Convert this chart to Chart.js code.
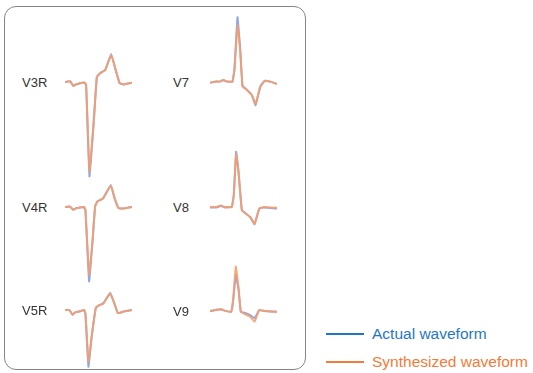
<!DOCTYPE html>
<html>
<head>
<meta charset="utf-8">
<script src="https://cdn.jsdelivr.net/npm/chart.js@4/dist/chart.umd.min.js"></script>
<style>
  html, body { margin: 0; padding: 0; background: #fff; overflow: hidden; }
  body { width: 533px; height: 373px; position: relative; font-family: "Liberation Sans", Arial, Helvetica, sans-serif; }
  #box { position: absolute; left: 4px; top: 6px; width: 300px; height: 362px; border: 1.3px solid #858585; border-radius: 12px; }
  .lead { position: absolute; font-size: 13px; color: #333; line-height: 16px; margin-top: -8px; }
  canvas.ecg { position: absolute; }
  .leg-line { position: absolute; height: 1.6px; width: 38px; }
  .leg-text { position: absolute; font-size: 15.5px; line-height: 18px; margin-top: -9px; white-space: nowrap; }
</style>
</head>
<body>
<script>
// ---- Data (time in ms, amplitude in mV) ----
const leadNames = ["V3R", "V4R", "V5R", "V7", "V8", "V9"];
const seriesNames = ["Actual waveform", "Synthesized waveform"];

const v3rTime   = [0, 30, 50, 66, 90, 114, 126, 146, 170, 190, 210, 240, 276, 300, 326, 350, 400];
const v3rActual = [0, 0.02, -0.10, -0.06, -0.03, -0.01, -0.07, -2.36, -1.10, 0.12, 0.22, 0.30, 0.70, 0.34, -0.03, -0.06, -0.02];
const v3rSynth  = [0, 0.02, -0.09, -0.06, -0.03, -0.01, -0.06, -2.24, -1.07, 0.13, 0.22, 0.30, 0.68, 0.34, -0.03, -0.06, -0.02];

const v4rTime   = [0, 30, 50, 66, 90, 114, 122, 144, 164, 180, 194, 226, 274, 296, 320, 350, 400];
const v4rActual = [0, 0.01, -0.07, -0.03, -0.01, 0, -0.08, -1.86, -0.88, 0.02, 0.14, 0.21, 0.55, 0.22, -0.03, -0.04, 0.01];
const v4rSynth  = [0, 0.01, -0.07, -0.03, -0.01, 0, -0.07, -1.69, -0.86, 0.02, 0.14, 0.21, 0.54, 0.22, -0.03, -0.04, 0];

const v5rTime   = [0, 26, 46, 60, 90, 114, 122, 140, 160, 184, 200, 230, 270, 294, 316, 350, 400];
const v5rActual = [0, 0, -0.12, -0.06, -0.03, 0, -0.09, -1.42, -0.65, 0.05, 0.11, 0.17, 0.43, 0.17, -0.08, -0.04, 0];
const v5rSynth  = [0, 0, -0.12, -0.06, -0.03, 0, -0.08, -1.29, -0.63, 0.06, 0.11, 0.17, 0.42, 0.17, -0.08, -0.04, 0];

const v7Time    = [0, 40, 60, 80, 100, 134, 146, 164, 180, 194, 220, 250, 272, 300, 326, 360, 400];
const v7Actual  = [-0.02, 0.01, 0.01, 0.05, 0.01, 0.01, 0.32, 1.62, 0.85, -0.10, -0.19, -0.33, -0.58, -0.12, 0.03, 0.01, -0.05];
const v7Synth   = [-0.02, 0.01, 0.01, 0.05, 0.01, 0.01, 0.30, 1.42, 0.80, -0.10, -0.20, -0.33, -0.55, -0.12, 0.03, 0.01, -0.05];

const v8Time    = [0, 40, 66, 86, 130, 142, 156, 170, 190, 214, 240, 266, 294, 320, 400];
const v8Actual  = [-0.01, -0.01, 0.03, -0.01, 0, 0.30, 1.38, 0.90, -0.08, -0.16, -0.25, -0.43, -0.04, -0.01, -0.04];
const v8Synth   = [0, 0, 0.04, 0, 0, 0.29, 1.33, 0.88, -0.08, -0.17, -0.25, -0.42, -0.04, 0, -0.02];

const v9Time    = [0, 40, 66, 86, 126, 138, 154, 170, 184, 210, 240, 266, 294, 326, 400];
const v9Actual  = [0, 0.03, 0.04, 0.01, -0.02, 0.25, 0.90, 0.55, -0.02, -0.05, -0.10, -0.18, 0.02, 0, -0.02];
const v9Synth   = [0, 0.03, 0.05, 0.01, -0.02, 0.28, 1.11, 0.61, -0.02, -0.08, -0.14, -0.27, 0.03, 0, -0.02];

// ---- Layout (pixels) ----
const PX_PER_MV = 40;
const Y_MIN = -2.5, Y_MAX = 1.8, T_MAX = 400;
const layout = [
  { left: 65,  base: 82,    labelX: 22 },
  { left: 65,  base: 207.3, labelX: 22 },
  { left: 65,  base: 310,   labelX: 22 },
  { left: 210, base: 82,    labelX: 173 },
  { left: 210, base: 206.7, labelX: 173 },
  { left: 210, base: 311,   labelX: 173 }
];
const leadData = [
  [v3rTime, v3rActual, v3rSynth],
  [v4rTime, v4rActual, v4rSynth],
  [v5rTime, v5rActual, v5rSynth],
  [v7Time, v7Actual, v7Synth],
  [v8Time, v8Actual, v8Synth],
  [v9Time, v9Actual, v9Synth]
];
const WAVE_W = 67;
const lineColors = ["rgba(110,135,220,0.75)", "rgba(245,158,110,0.9)"];

const box = document.createElement('div');
box.id = 'box';
document.body.appendChild(box);

leadNames.forEach((name, i) => {
  const L = layout[i];
  const lab = document.createElement('div');
  lab.className = 'lead';
  lab.textContent = name;
  lab.style.left = L.labelX + 'px';
  lab.style.top = (L.base + 1) + 'px';
  document.body.appendChild(lab);

  const cv = document.createElement('canvas');
  cv.className = 'ecg';
  const h = Math.round((Y_MAX - Y_MIN) * PX_PER_MV);
  cv.width = WAVE_W; cv.height = h;
  cv.style.width = WAVE_W + 'px'; cv.style.height = h + 'px';
  cv.style.left = L.left + 'px';
  cv.style.top = (L.base - Y_MAX * PX_PER_MV) + 'px';
  document.body.appendChild(cv);

  const [t, act, syn] = leadData[i];
  const toPts = arr => arr.map((v, k) => ({ x: t[k], y: v }));
  new Chart(cv, {
    type: 'line',
    data: {
      datasets: [
        { label: seriesNames[0], data: toPts(act), borderColor: lineColors[0], borderWidth: 2, pointRadius: 0, tension: 0.08, clip: false, order: 1 },
        { label: seriesNames[1], data: toPts(syn), borderColor: lineColors[1], borderWidth: 2, pointRadius: 0, tension: 0.08, clip: false, order: 0 }
      ]
    },
    options: {
      responsive: false, animation: false, devicePixelRatio: 1,
      layout: { padding: 0 },
      plugins: { legend: { display: false }, tooltip: { enabled: false } },
      scales: {
        x: { type: 'linear', min: 0, max: T_MAX, display: false },
        y: { min: Y_MIN, max: Y_MAX, display: false }
      }
    }
  });
});

// Legend
const legColors = ["#1f77c8", "#f47a38"];
const legY = [334, 362];
seriesNames.forEach((s, i) => {
  const ln = document.createElement('div');
  ln.className = 'leg-line';
  ln.style.background = legColors[i];
  ln.style.left = '326px';
  ln.style.top = (legY[i] - 0.8) + 'px';
  document.body.appendChild(ln);
  const tx = document.createElement('div');
  tx.className = 'leg-text';
  tx.style.color = legColors[i];
  tx.style.left = '372px';
  tx.style.top = legY[i] + 'px';
  tx.textContent = s;
  document.body.appendChild(tx);
});
</script>
</body>
</html>
